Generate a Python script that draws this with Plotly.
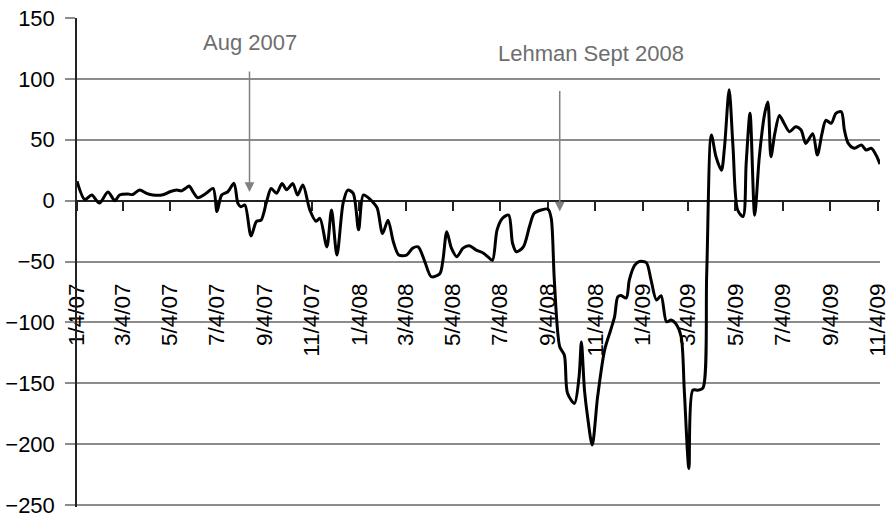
import plotly.graph_objects as go

dates = [
    "2007-01-04", "2007-01-14", "2007-01-23", "2007-02-02", "2007-02-13", "2007-02-22",
    "2007-02-28", "2007-03-11", "2007-03-17", "2007-03-26", "2007-04-04", "2007-04-12",
    "2007-04-25", "2007-05-04", "2007-05-13", "2007-05-19", "2007-05-24", "2007-05-29",
    "2007-06-03", "2007-06-09", "2007-06-20", "2007-06-29", "2007-07-04", "2007-07-10",
    "2007-07-18", "2007-07-26", "2007-07-31", "2007-08-04", "2007-08-09", "2007-08-17",
    "2007-08-24", "2007-08-30", "2007-09-06", "2007-09-12", "2007-09-19", "2007-09-26",
    "2007-10-02", "2007-10-10", "2007-10-16", "2007-10-23", "2007-11-01", "2007-11-09",
    "2007-11-14", "2007-11-23", "2007-11-29", "2007-12-06", "2007-12-14", "2007-12-20",
    "2007-12-27", "2008-01-03", "2008-01-09", "2008-01-15", "2008-01-21", "2008-01-27",
    "2008-02-03", "2008-02-10", "2008-02-17", "2008-02-24", "2008-03-05", "2008-03-13",
    "2008-03-20", "2008-03-28", "2008-04-06", "2008-04-17", "2008-04-21", "2008-04-26",
    "2008-05-02", "2008-05-09", "2008-05-17", "2008-05-25", "2008-06-03", "2008-06-12",
    "2008-06-18", "2008-06-24", "2008-06-30", "2008-07-07", "2008-07-15", "2008-07-20",
    "2008-07-25", "2008-08-03", "2008-08-11", "2008-08-17", "2008-08-26", "2008-09-04",
    "2008-09-08", "2008-09-12", "2008-09-19", "2008-09-25", "2008-09-29", "2008-10-08",
    "2008-10-14", "2008-10-17", "2008-10-21", "2008-10-25", "2008-10-31", "2008-11-07",
    "2008-11-16", "2008-11-24", "2008-11-29", "2008-12-03", "2008-12-07", "2008-12-14",
    "2008-12-18", "2008-12-25", "2008-12-31", "2009-01-09", "2009-01-15", "2009-01-22",
    "2009-01-28", "2009-02-04", "2009-02-10", "2009-02-16", "2009-02-23", "2009-02-27",
    "2009-03-05", "2009-03-10", "2009-03-17", "2009-03-23", "2009-03-28", "2009-04-03",
    "2009-04-09", "2009-04-16", "2009-04-20", "2009-04-26", "2009-05-01", "2009-05-07",
    "2009-05-14", "2009-05-18", "2009-05-23", "2009-05-29", "2009-06-04", "2009-06-11",
    "2009-06-15", "2009-06-19", "2009-06-24", "2009-06-30", "2009-07-06", "2009-07-13",
    "2009-07-21", "2009-07-28", "2009-08-03", "2009-08-12", "2009-08-18", "2009-08-24",
    "2009-08-29", "2009-09-05", "2009-09-11", "2009-09-18", "2009-09-22", "2009-09-27",
    "2009-10-05", "2009-10-14", "2009-10-20", "2009-10-27", "2009-11-03", "2009-11-07",
]

values = [
    16, 1, 4.6, -2, 7, 0,
    4.6, 5.4, 5, 8.7, 6, 4.6,
    4.8, 7.3, 8.7, 8, 10, 12,
    7.3, 2.4, 6, 10, -9, 4.6,
    7.3, 14.2, -2.2, -5, -3.6, -29,
    -17, -16, -1, 10, 6, 14,
    9, 14, 4.6, 12.8, -7.7, -17,
    -14.5, -38, -7.7, -44.7, -2, 8.7,
    6, -24, 4.6, 2.7, -1, -6,
    -27, -16, -34, -44.7, -44.7, -39,
    -38, -49, -62.5, -60, -49, -25.5,
    -39, -46, -39, -37, -40.6, -43,
    -46, -49, -24, -14.5, -11.8, -35,
    -42, -38, -21, -10.4, -7.7, -7,
    -14.5, -65, -120, -127, -158, -166.5,
    -144.6, -116, -155.6, -177.5, -200.7, -161,
    -122.7, -106, -95, -79, -78, -80,
    -65, -53, -50, -51, -65, -81.6,
    -78, -99.5, -98, -101, -112, -155.6,
    -220, -155.6, -155.6, -154, -60, 54,
    36, 25, 44, 91, 44, -7.7,
    -13, 30.6, 71.7, -12, 36, 71.7,
    81, 36, 55, 70, 63.5, 56.6,
    60.7, 58, 47, 55, 37.5, 55,
    66, 63.5, 71.7, 73, 58, 47,
    43, 45.7, 41.6, 43, 36, 30,
]

tick_dates = [
    "2007-01-04", "2007-03-04", "2007-05-04", "2007-07-04", "2007-09-04", "2007-11-04",
    "2008-01-04", "2008-03-04", "2008-05-04", "2008-07-04", "2008-09-04", "2008-11-04",
    "2009-01-04", "2009-03-04", "2009-05-04", "2009-07-04", "2009-09-04", "2009-11-04",
]
tick_labels = [
    "1/4/07", "3/4/07", "5/4/07", "7/4/07", "9/4/07", "11/4/07",
    "1/4/08", "3/4/08", "5/4/08", "7/4/08", "9/4/08", "11/4/08",
    "1/4/09", "3/4/09", "5/4/09", "7/4/09", "9/4/09", "11/4/09",
]
y_ticks = [-250, -200, -150, -100, -50, 0, 50, 100, 150]

events = [
    {"label": "Aug 2007", "date": "2007-08-15", "tip": 7, "text_date": "2007-08-15", "text_y": 130},
    {"label": "Lehman Sept 2008", "date": "2008-09-19", "tip": -9, "text_date": "2008-10-29", "text_y": 121},
]

FONT = "Liberation Sans, Arial, Helvetica, sans-serif"
GRID = "#8c8c8c"
Y_LO, Y_HI = -251.6, 150

fig = go.Figure()
fig.add_trace(go.Scatter(
    x=dates, y=values, mode="lines",
    line=dict(color="black", width=3, shape="spline", smoothing=0.8),
    showlegend=False, hoverinfo="skip",
))

annotations = []
for ev in events:
    annotations.append(dict(
        x=ev["date"], y=ev["tip"], xref="x", yref="y", text="",
        showarrow=True, ax=0, ay=-122, arrowhead=2, arrowsize=1.3,
        arrowwidth=1.5, arrowcolor="#808080",
    ))
    annotations.append(dict(
        x=ev["text_date"], y=ev["text_y"], xref="x", yref="y", text=ev["label"],
        showarrow=False, font=dict(family=FONT, size=22, color="#6e6e6e"),
        xanchor="center", yanchor="middle",
    ))

fig.update_layout(
    width=887, height=515,
    margin=dict(l=77, r=7, t=18, b=8),
    paper_bgcolor="white", plot_bgcolor="white",
    font=dict(family=FONT, size=22, color="black"),
    annotations=annotations,
    xaxis=dict(
        type="date", range=["2007-01-04", "2009-11-07"],
        tickmode="array", tickvals=tick_dates, ticktext=tick_labels,
        tickangle=-90, ticks="outside", ticklen=10, tickwidth=1.5, tickcolor="#222",
        showgrid=False, showline=True, linecolor="#222", linewidth=1.5,
        anchor="free", position=-Y_LO / (Y_HI - Y_LO), ticklabelstandoff=63,
        ticklabeloverflow="allow",
        tickfont=dict(family=FONT, size=22.5, color="black"),
        automargin=False, zeroline=False, layer="below traces",
    ),
    yaxis=dict(
        range=[Y_LO, Y_HI], tickmode="array", tickvals=y_ticks,
        showgrid=True, gridcolor=GRID, gridwidth=1.5,
        ticks="outside", ticklen=10, tickwidth=1.5, tickcolor=GRID,
        showline=True, linecolor="#222", linewidth=1.5,
        zeroline=True, zerolinecolor="#222", zerolinewidth=1.5,
        tickfont=dict(family=FONT, size=22, color="black"),
        ticklabeloverflow="allow",
        ticklabelstandoff=6, automargin=False,
    ),
)

fig.write_html(
    "out.html",
    config={"displayModeBar": False},
    post_script="document.body.style.margin='0';document.body.style.overflow='hidden';",
)
